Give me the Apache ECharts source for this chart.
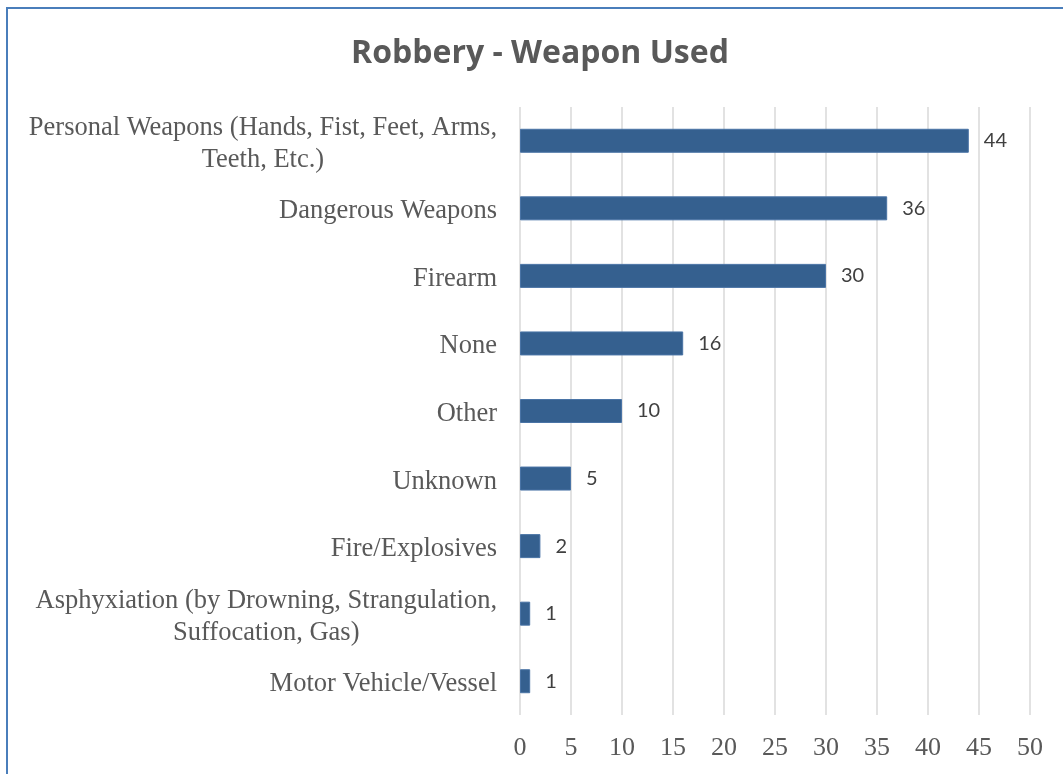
<!DOCTYPE html>
<html>
<head>
<meta charset="utf-8">
<script src="https://cdn.jsdelivr.net/npm/echarts@6/dist/echarts.min.js"></script>
<style>
  html, body { margin: 0; padding: 0; background: #fff; overflow: hidden; }
  #frame {
    position: absolute; left: 6px; top: 7px; width: 1100px; height: 800px;
    border-left: 2px solid #4a7ebb; border-top: 2px solid #4a7ebb;
  }
  #main { position: absolute; left: 0; top: 0; width: 1063px; height: 774px; }
</style>
</head>
<body>
<div id="frame"></div>
<div id="main"></div>
<script>
// 类别（自下而上）
const categories = [
  'Motor Vehicle/Vessel',
  'Asphyxiation (by Drowning, Strangulation,\nSuffocation, Gas)',
  'Fire/Explosives',
  'Unknown',
  'Other',
  'None',
  'Firearm',
  'Dangerous Weapons',
  'Personal Weapons (Hands, Fist, Feet, Arms,\nTeeth, Etc.)'
];
const counts = [1, 1, 2, 5, 10, 16, 30, 36, 44];
const xTicks = [0, 5, 10, 15, 20, 25, 30, 35, 40, 45, 50];

function drawBar(container) {
  const SERIF = '"Liberation Serif", "Times New Roman", serif';
  const SANS = 'Lato, "Liberation Sans", Arial, sans-serif';
  const CAT_SIZE = 26.5

  let chart = echarts.init(document.getElementById(container));
  let option = {
    backgroundColor: 'transparent',
    title: {
      text: 'Robbery - Weapon Used',
      left: 535,
      textAlign: 'center',
      top: 33,
      textStyle: {
        fontFamily: '"Open Sans", "Liberation Sans", sans-serif',
        fontSize: 32,
        fontWeight: 'bold',
        color: '#595959'
      }
    },
    grid: {
      left: 520,
      right: 33,
      top: 107,
      bottom: 59
    },
    xAxis: {
      type: 'value',
      min: xTicks[0],
      max: xTicks[xTicks.length - 1],
      interval: 5,
      axisLine: { show: false },
      axisTick: { show: false },
      axisLabel: {
        margin: 20,
        fontFamily: SERIF,
        fontSize: 26,
        color: '#595959'
      },
      splitLine: {
        show: true,
        lineStyle: { color: '#d9d9d9', width: 1.5 }
      }
    },
    yAxis: {
      type: 'category',
      data: categories,
      axisLine: { show: false },
      axisTick: { show: false },
      axisLabel: {
        margin: 23,
        padding: [6, 0, 0, 0],
        fontFamily: SERIF,
        fontSize: CAT_SIZE,
        color: '#595959',
        lineHeight: 32,
        formatter: function(value) {
          return value.split('\n').map(function(s) {
            return '{c|' + s + '}';
          }).join('\n');
        },
        rich: {
          c: {
            align: 'center',
            fontFamily: SERIF,
            fontSize: CAT_SIZE,
            color: '#595959',
            lineHeight: 32
          }
        }
      }
    },
    series: [{
      type: 'bar',
      data: counts,
      barWidth: 24,
      itemStyle: {
        color: '#35608f',
        borderColor: '#4a74a6',
        borderWidth: 1
      },
      label: {
        show: true,
        position: 'right',
        distance: 15,
        fontFamily: SANS,
        fontSize: 20,
        color: '#404040'
      }
    }]
  };
  chart.setOption(option);
}

drawBar('main');
</script>
</body>
</html>
